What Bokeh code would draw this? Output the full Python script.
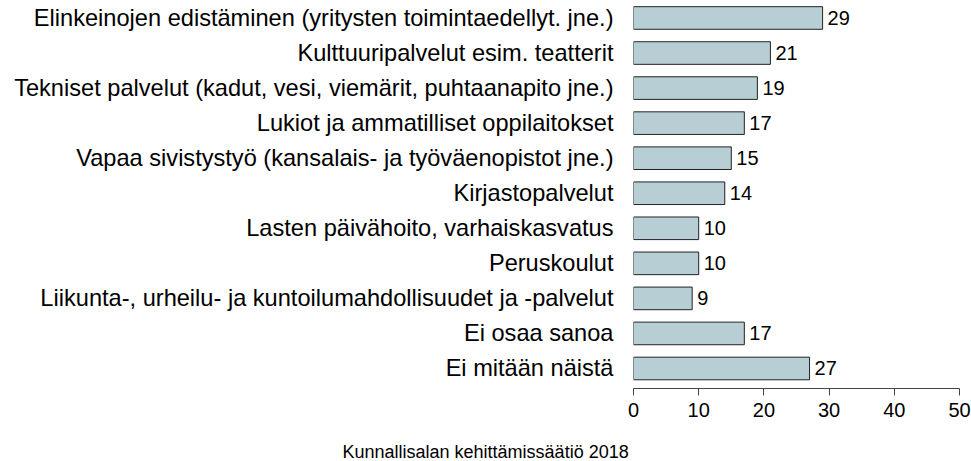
from bokeh.plotting import figure
from bokeh.models import Range1d, FixedTicker, Title, ColumnDataSource
from bokeh.core.properties import value
from bokeh.embed import file_html
from bokeh.resources import INLINE

categories = [
    "Elinkeinojen edistäminen (yritysten toimintaedellyt. jne.)",
    "Kulttuuripalvelut esim. teatterit",
    "Tekniset palvelut (kadut, vesi, viemärit, puhtaanapito jne.)",
    "Lukiot ja ammatilliset oppilaitokset",
    "Vapaa sivistystyö (kansalais- ja työväenopistot jne.)",
    "Kirjastopalvelut",
    "Lasten päivähoito, varhaiskasvatus",
    "Peruskoulut",
    "Liikunta-, urheilu- ja kuntoilumahdollisuudet ja -palvelut",
    "Ei osaa sanoa",
    "Ei mitään näistä",
]
values = [29, 21, 19, 17, 15, 14, 10, 10, 9, 17, 27]
x_ticks = [0, 10, 20, 30, 40, 50]
caption = "Kunnallisalan kehittämissäätiö 2018"

FONT = "Liberation Sans"

positions = list(range(len(categories)))
src = ColumnDataSource(dict(
    y=positions,
    v=values,
    lab=[str(v) for v in values],
))

p = figure(
    width=971, height=461,
    x_range=Range1d(0, 51.84),
    y_range=Range1d(10.571, -0.499),
    output_backend="svg", toolbar_location=None,
    min_border_left=633, min_border_right=0,
    min_border_top=0, min_border_bottom=73,
)
p.outline_line_color = None
p.xgrid.visible = False
p.ygrid.visible = False
p.background_fill_color = "white"
p.border_fill_color = "white"

p.hbar(y="y", right="v", left=0, height=0.645, source=src,
       fill_color="#B7CFD4", line_color="#222222", line_width=1)

p.text(x="v", y="y", text="lab", source=src, x_offset=5,
       text_align="left", text_baseline="middle",
       text_font_size="20px", text_color="#000000",
       text_font=value(FONT))

# x axis
xa = p.xaxis[0]
xa.ticker = FixedTicker(ticks=x_ticks)
xa.bounds = (0, 50)
xa.axis_line_color = "#444444"
xa.major_tick_line_color = "#444444"
xa.major_tick_out = 7
xa.major_tick_in = 0
xa.minor_tick_line_color = None
xa.major_label_standoff = 7
xa.major_label_text_font = FONT
xa.major_label_text_font_size = "20px"
xa.major_label_text_color = "#000000"

# y axis (category labels)
ya = p.yaxis[0]
ya.ticker = FixedTicker(ticks=positions)
ya.major_label_overrides = {i: c for i, c in zip(positions, categories)}
ya.axis_line_color = None
ya.major_tick_line_color = None
ya.minor_tick_line_color = None
ya.major_tick_out = 0
ya.major_tick_in = 0
ya.major_label_standoff = 20
ya.major_label_text_font = FONT
ya.major_label_text_font_size = "23.6px"
ya.major_label_text_color = "#000000"

cap = Title(text="\n" + caption, align="left", offset=-291,
            vertical_align="bottom",
            text_font=FONT, text_font_size="18px", text_font_style="normal",
            text_color="#000000", standoff=0)
p.add_layout(cap, "below")

open("out.html", "w").write(file_html(p, INLINE))
